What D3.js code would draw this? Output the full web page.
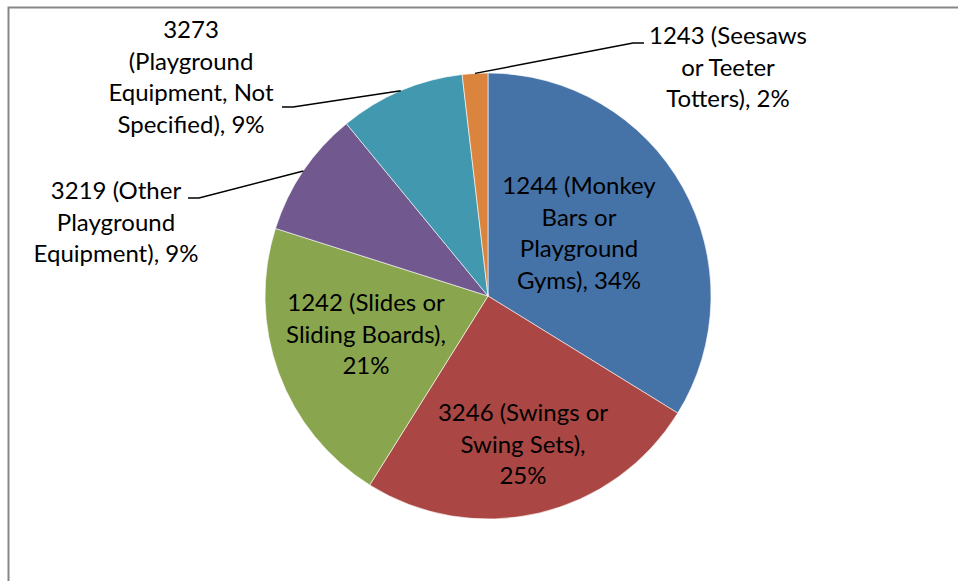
<!DOCTYPE html>
<html>
<head>
<meta charset="utf-8">
<script src="https://cdn.jsdelivr.net/npm/d3@7"></script>
<style>
  body { margin: 0; background: #fff; }
  svg { display: block; }
</style>
</head>
<body>
<svg id="chart" width="958" height="581"></svg>
<script>
// data, clockwise from 12 o'clock
const categories = [
    "1244 (Monkey Bars or Playground Gyms)",
    "3246 (Swings or Swing Sets)",
    "1242 (Slides or Sliding Boards)",
    "3219 (Other Playground Equipment)",
    "3273 (Playground Equipment, Not Specified)",
    "1243 (Seesaws or Teeter Totters)"
];
const values = [33.8, 25.1, 21.0, 9.15, 9.1, 1.85];
const colors = ["#4572A7", "#AA4643", "#89A54E", "#71588F", "#4198AF", "#DB843D"];

// how excel wrapped each label (last line gets the percent appended)
const labelLines = [
    ["1244 (Monkey", "Bars or", "Playground", "Gyms),"],
    ["3246 (Swings or", "Swing Sets),", ""],
    ["1242 (Slides or", "Sliding Boards),", ""],
    ["3219 (Other", "Playground", "Equipment),"],
    ["3273", "(Playground", "Equipment, Not", "Specified),"],
    ["1243 (Seesaws", "or Teeter", "Totters),"]
];

// label layout: centre x, first baseline y, and leader line start (outside labels only)
const labelPos = [
    { x: 579, y: 194 },
    { x: 523, y: 421 },
    { x: 366, y: 311 },
    { x: 116, y: 199, lead: [188, 198] },
    { x: 191, y: 38, lead: [282, 107] },
    { x: 728, y: 44, lead: [644, 43] }
];

const svg = d3.select("#chart");
const cx = 488, cy = 296, radius = 223;
const lineH = 31.5;

// chart border (runs off the right and bottom edges)
svg.append("rect")
    .attr("x", 8.5).attr("y", 7.5)
    .attr("width", 1000).attr("height", 700)
    .attr("fill", "none")
    .attr("stroke", "#878787")
    .attr("stroke-width", 2);

const total = d3.sum(values);
const pie = d3.pie().sort(null).value(d => d);
const arcs = pie(values);
const arc = d3.arc().innerRadius(0).outerRadius(radius);

const g = svg.append("g").attr("transform", `translate(${cx},${cy})`);

g.selectAll("path")
    .data(arcs)
    .join("path")
    .attr("d", arc)
    .attr("fill", (d, i) => colors[i])
    .attr("stroke", "#fff")
    .attr("stroke-width", 0.6);

// leader lines for the labels placed outside
arcs.forEach((d, i) => {
    const p = labelPos[i];
    if (!p.lead) return;
    const mid = (d.startAngle + d.endAngle) / 2;
    const ex = cx + Math.sin(mid) * radius;
    const ey = cy - Math.cos(mid) * radius;
    const dir = ex > p.lead[0] ? 1 : -1;
    svg.append("polyline")
        .attr("points", [[p.lead[0], p.lead[1]], [p.lead[0] + dir * 11, p.lead[1]], [ex, ey]].join(" "))
        .attr("fill", "none")
        .attr("stroke", "#000")
        .attr("stroke-width", 1.5);
});

// labels
arcs.forEach((d, i) => {
    const p = labelPos[i];
    const pct = Math.round(values[i] / total * 100) + "%";
    const lines = labelLines[i].slice();
    const last = lines.length - 1;
    lines[last] = lines[last] === "" ? pct : lines[last] + " " + pct;
    const t = svg.append("text")
        .attr("text-anchor", "middle")
        .attr("font-family", "Lato, 'Open Sans', sans-serif")
        .attr("font-size", "24px")
        .attr("fill", "#000");
    lines.forEach((ln, k) => {
        t.append("tspan")
            .attr("x", p.x)
            .attr("y", p.y + k * lineH)
            .text(ln);
    });
});
</script>
</body>
</html>
